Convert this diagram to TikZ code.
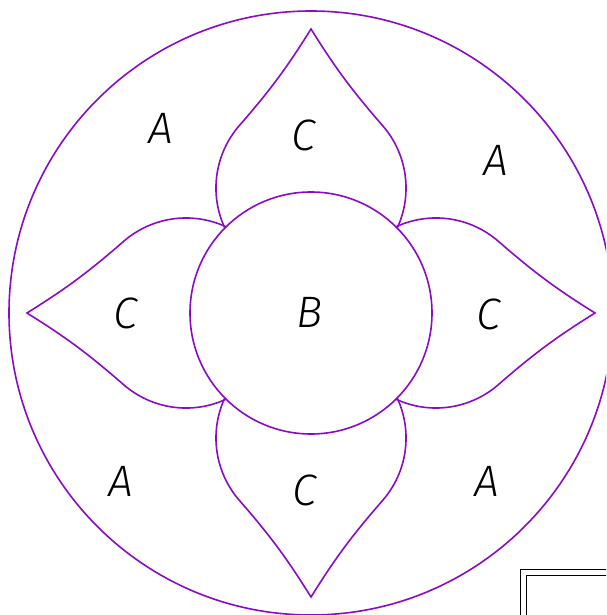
\documentclass[tikz,border=0pt]{standalone}
\usepackage{fontspec}
\usepackage{xcolor}
\usepackage{tikz}
\newfontfamily\labelfont{Fira Sans Light}[ItalicFont={Fira Sans Light Italic}]
\definecolor{petal}{HTML}{8A0AC8}
\tikzset{
  outline/.style={draw=petal, line width=1.6pt},
  frame/.style={draw=black, line width=1.3pt},
  region/.style={font=\labelfont\itshape\fontsize{44}{44}\selectfont, inner sep=0pt}
}

\begin{document}
\begin{tikzpicture}[x=1pt,y=1pt]
  \useasboundingbox (-311,-302) rectangle (295,313);
  \clip (-311,-302) rectangle (295,313);

  % outer ring and centre disc
  \draw[outline] (0,0) circle[radius=302];
  \draw[outline] (0,0) circle[radius=121];

  % four petals
  \foreach \a in {0,90,180,270}{
    \draw[outline, rotate=\a] (-86.2,85) arc[start angle=204.9, end angle=138.9, radius=95]
      to[out=49,in=238] (0,284) to[out=302,in=131] (71.6,187.4)
      arc[start angle=41.1, end angle=-24.9, radius=95];
  }

  % title block corner
  \draw[frame] (209.7,-256.3) rectangle (320,-330);
  \draw[frame] (215.7,-262.3) rectangle (320,-330);

  \node[region] (b) at (-1,1) {B};
  \node[region] (ctop) at (-7,178) {C};
  \node[region] (cleft) at (-185,0) {C};
  \node[region] (cright) at (178,-1) {C};
  \node[region] (cbottom) at (-6,-177) {C};
  \node[region] (anw) at (-150,185) {A};
  \node[region] (ane) at (185,153) {A};
  \node[region] (asw) at (-190,-168) {A};
  \node[region] (ase) at (176,-168) {A};
\end{tikzpicture}
\end{document}
